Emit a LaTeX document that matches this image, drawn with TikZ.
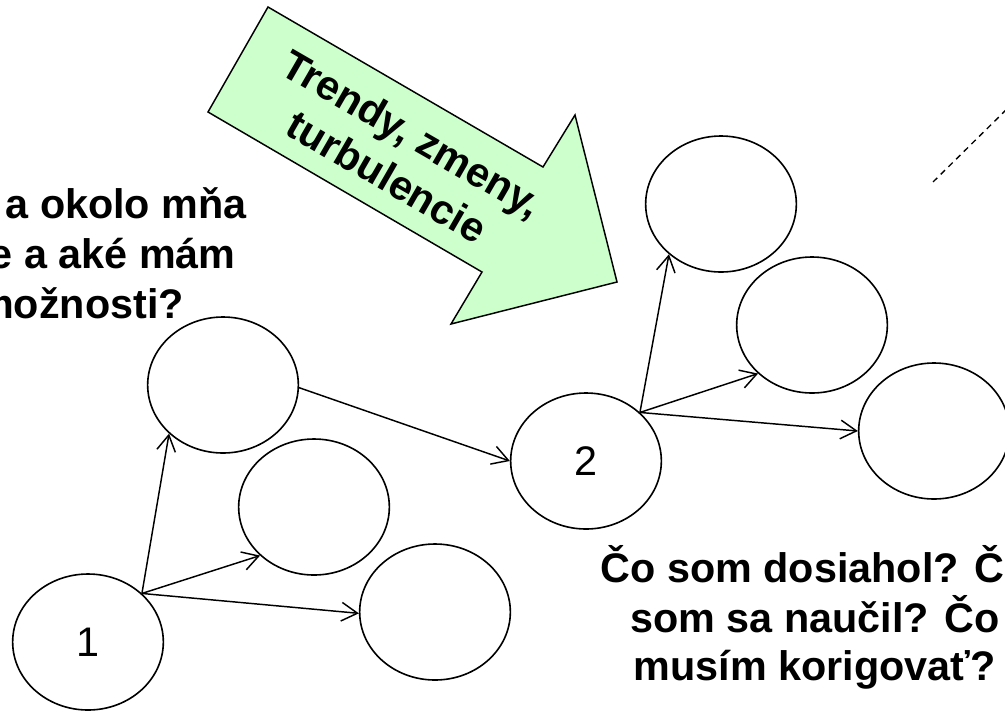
\documentclass[tikz,border=0pt]{standalone}
\usepackage{fontspec}
\setmainfont{Liberation Sans}
\usetikzlibrary{shapes.geometric,arrows.meta}
\definecolor{lightgreen}{RGB}{204,255,204}
\begin{document}
\begin{tikzpicture}[x=0.75pt,y=-0.75pt,
  circ/.style={draw=black, line width=1.2pt, ellipse, minimum width=113pt, minimum height=102pt, inner sep=0pt, font=\fontsize{31}{37.5}\selectfont},
  conn/.style={draw=black, line width=1.1pt, -{Straight Barb[length=12pt,width=14pt]}},
  lbl/.style={font=\fontsize{31}{37.5}\selectfont\bfseries, inner sep=0pt},
  bigarrow/.style={draw=black, line width=1.1pt, fill=lightgreen, line join=miter},
  dashline/.style={draw=black, line width=1pt, dash pattern=on 4.5pt off 3.6pt}
]
\useasboundingbox (0,0) rectangle (1005,711);
\clip (0,0) rectangle (1005,711);

% big arrow
\coordinate (t1) at (268,7);
\coordinate (u1) at (543,167);
\coordinate (w1) at (575,115);
\coordinate (tip) at (617,282);
\coordinate (w2) at (451,324);
\coordinate (u2) at (482,272);
\coordinate (t2) at (208,112);
\draw[bigarrow] (t1) -- (u1) -- (w1) -- (tip) -- (w2) -- (u2) -- (t2) -- cycle;
\node[lbl, rotate=-30, align=center] (trend) at (400,155) {Trendy, zmeny,\\turbulencie};

% ellipses
\node[circ] (n1) at (88,642) {1};
\node[circ] (a) at (223,385) {};
\node[circ] (b) at (314,507) {};
\node[circ] (c) at (435,612) {};
\node[circ] (n2) at (586,461) {2};
\node[circ] (d) at (721,204) {};
\node[circ] (e) at (812,325) {};
\node[circ] (f) at (934,431) {};

% connectors
\draw[conn] (n1.42) -- (a.222);
\draw[conn] (n1.42) -- (b.222);
\draw[conn] (n1.42) -- (c.181);
\draw[conn] (a.358) -- (n2.180);
\draw[conn] (n2.42) -- (d.224);
\draw[conn] (n2.42) -- (e.222);
\draw[conn] (n2.42) -- (f.180);

% dashed line
\coordinate (ds) at (933,182);
\coordinate (de) at (1012,104);
\draw[dashline] (ds) -- (de);

% texts
\node[lbl, anchor=base east] (q1) at (247,218) {a okolo mňa};
\node[lbl, anchor=base east] (q2) at (236,268) {e a aké mám};
\node[lbl, anchor=base east] (q3) at (184,318) {možnosti?};

\node[lbl, anchor=base] (r1) at (815,582) {Čo som dosiahol? Čo};
\node[lbl, anchor=base] (r2) at (815,632) {som sa naučil? Čo};
\node[lbl, anchor=base] (r3) at (815,680) {musím korigovať?};
\end{tikzpicture}
\end{document}
